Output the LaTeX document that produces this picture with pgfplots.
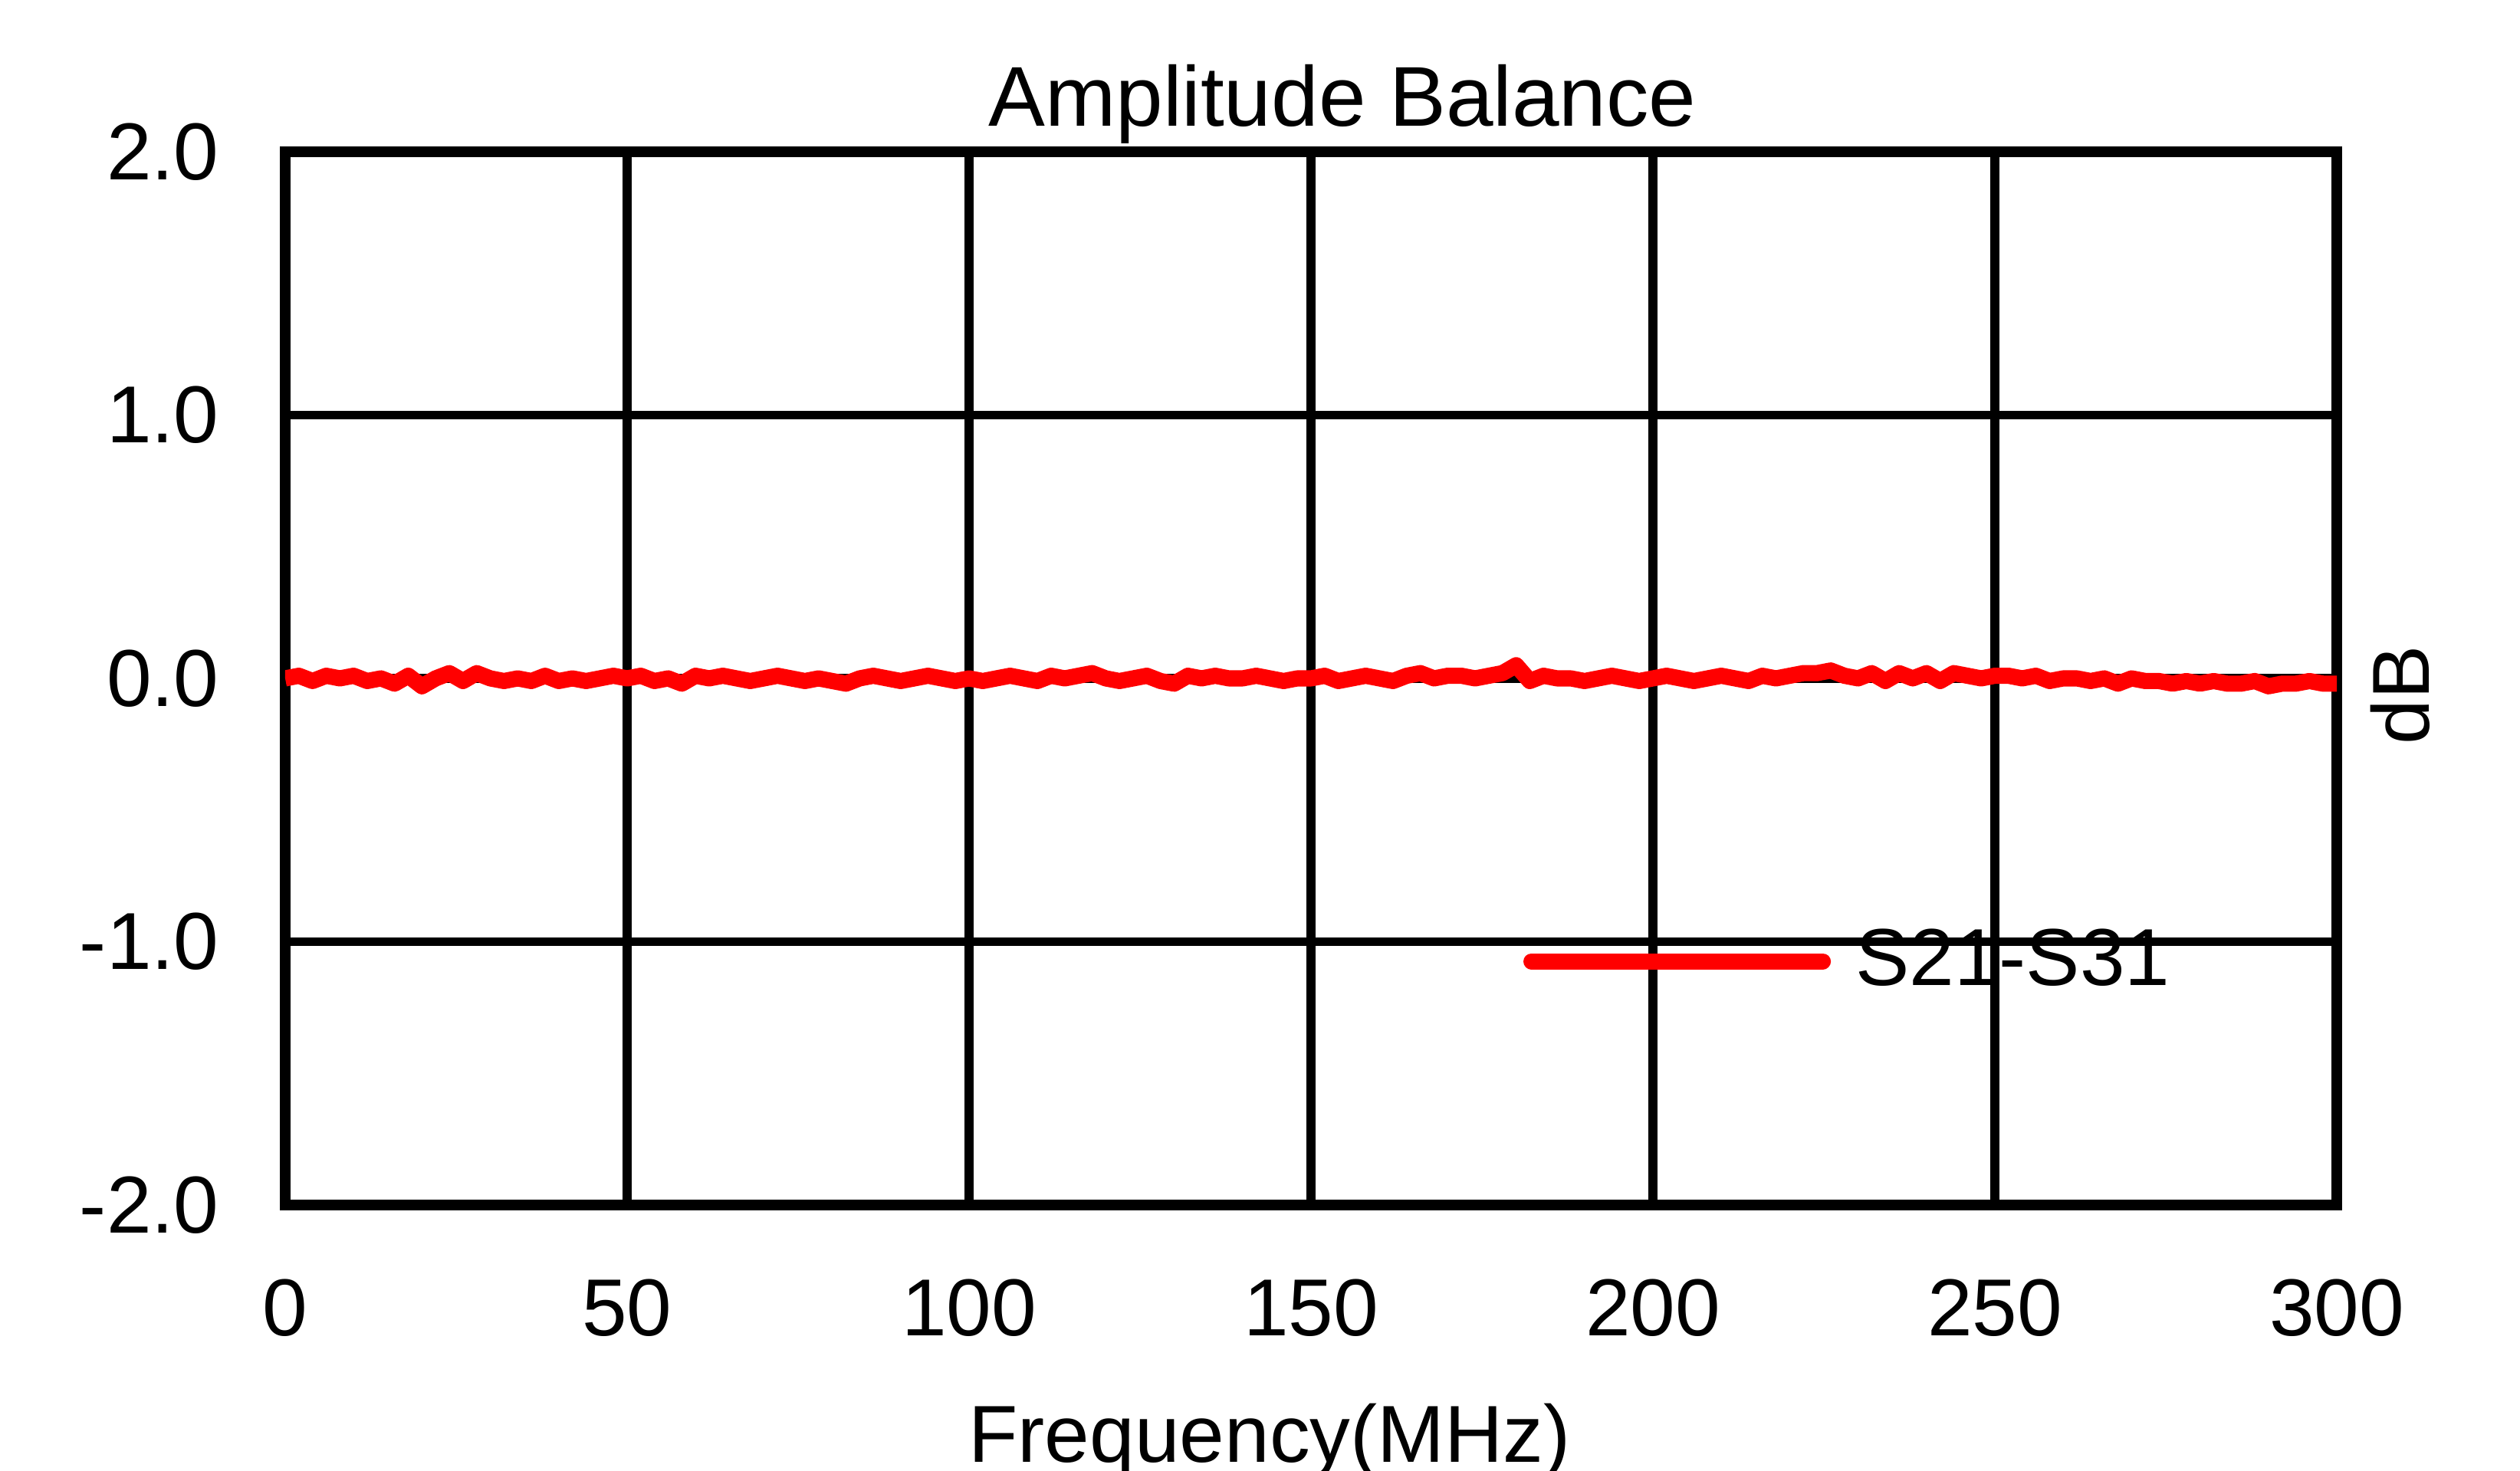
\documentclass[border=0pt]{standalone}
\usepackage{pgfplots}
\pgfplotsset{compat=1.18}
\usepackage{fontspec}
\setmainfont{Liberation Sans}

\newcommand{\chartfont}{\fontsize{15}{18}\selectfont}

\begin{document}
\begin{tikzpicture}
\begin{axis}[
  at={(0,0)}, anchor=south west,
  scale only axis,
  width=133.8mm, height=68.7mm,
  xmin=0, xmax=300, ymin=-2, ymax=2,
  xtick={0,50,100,150,200,250,300},
  xticklabels={0,50,100,150,200,250,300},
  ytick={-2,-1,0,1,2},
  yticklabels={-2.0,-1.0,0.0,1.0,2.0},
  /pgf/number format/assume math mode=true,
  major tick length=0pt,
  grid=major,
  grid style={black, line width=1.6pt},
  axis line style={black, line width=1.9pt},
  xticklabel style={font=\chartfont, anchor=base, inner sep=0pt, yshift=-8.55mm},
  yticklabel style={font=\chartfont, anchor=east, inner sep=0pt, xshift=-4.25mm},
  title={Amplitude Balance},
  title style={font=\fontsize{15.75}{18}\selectfont, at={(axis description cs:0.5153,1.0211)}, anchor=base, inner sep=0pt, yshift=-1.9mm},
  xlabel={Frequency(MHz)},
  xlabel style={font=\chartfont, at={(axis description cs:0.4798,-0.2445)}, anchor=base, inner sep=0pt},
  ylabel={dB},
  ylabel style={font=\chartfont, at={(axis description cs:1.031,0.484)}, anchor=center, inner sep=0pt},
  legend style={draw=none, fill=none, font=\chartfont, inner sep=0pt,
    at={(axis description cs:0.603,0.2314)}, anchor=west,
    nodes={inner sep=0pt}, column sep=1.6mm},
  legend cell align=left,
  legend image code/.code={\draw[#1, line cap=round] (0mm,0mm) -- (19mm,0mm);},
]
\addplot[red, line width=3pt, line join=round] coordinates {
(0,0.00) (2,0.01) (4,-0.01) (6,0.01) (8,0.00) (10,0.01) (12,-0.01) (14,0.00)
(16,-0.02) (18,0.01) (20,-0.03) (22,0.00) (24,0.02) (26,-0.01) (28,0.02) (30,0.00)
(32,-0.01) (34,0.00) (36,-0.01) (38,0.01) (40,-0.01) (42,0.00) (44,-0.01) (46,0.00)
(48,0.01) (50,0.00) (52,0.01) (54,-0.01) (56,0.00) (58,-0.02) (60,0.01) (62,0.00)
(64,0.01) (66,0.00) (68,-0.01) (70,0.00) (72,0.01) (74,0.00) (76,-0.01) (78,0.00)
(80,-0.01) (82,-0.02) (84,0.00) (86,0.01) (88,0.00) (90,-0.01) (92,0.00) (94,0.01)
(96,0.00) (98,-0.01) (100,0.00) (102,-0.01) (104,0.00) (106,0.01) (108,0.00) (110,-0.01)
(112,0.01) (114,0.00) (116,0.01) (118,0.02) (120,0.00) (122,-0.01) (124,0.00) (126,0.01)
(128,-0.01) (130,-0.02) (132,0.01) (134,0.00) (136,0.01) (138,0.00) (140,0.00) (142,0.01)
(144,0.00) (146,-0.01) (148,0.00) (150,0.00) (152,0.01) (154,-0.01) (156,0.00) (158,0.01)
(160,0.00) (162,-0.01) (164,0.01) (166,0.02) (168,0.00) (170,0.01) (172,0.01) (174,0.00)
(176,0.01) (178,0.02) (180,0.05) (182,-0.01) (184,0.01) (186,0.00) (188,0.00) (190,-0.01)
(192,0.00) (194,0.01) (196,0.00) (198,-0.01) (200,0.00) (202,0.01) (204,0.00) (206,-0.01)
(208,0.00) (210,0.01) (212,0.00) (214,-0.01) (216,0.01) (218,0.00) (220,0.01) (222,0.02)
(224,0.02) (226,0.03) (228,0.01) (230,0.00) (232,0.02) (234,-0.01) (236,0.02) (238,0.00)
(240,0.02) (242,-0.01) (244,0.02) (246,0.01) (248,0.00) (250,0.01) (252,0.01) (254,0.00)
(256,0.01) (258,-0.01) (260,0.00) (262,0.00) (264,-0.01) (266,0.00) (268,-0.02) (270,0.00)
(272,-0.01) (274,-0.01) (276,-0.02) (278,-0.01) (280,-0.02) (282,-0.01) (284,-0.02) (286,-0.02)
(288,-0.01) (290,-0.03) (292,-0.02) (294,-0.02) (296,-0.01) (298,-0.02) (300,-0.02)
};
\addlegendentry{S21-S31}
\end{axis}
\pgfresetboundingbox
\useasboundingbox (-18.6mm,-17.35mm) rectangle (145.75mm,78.6mm);
\end{tikzpicture}
\end{document}
